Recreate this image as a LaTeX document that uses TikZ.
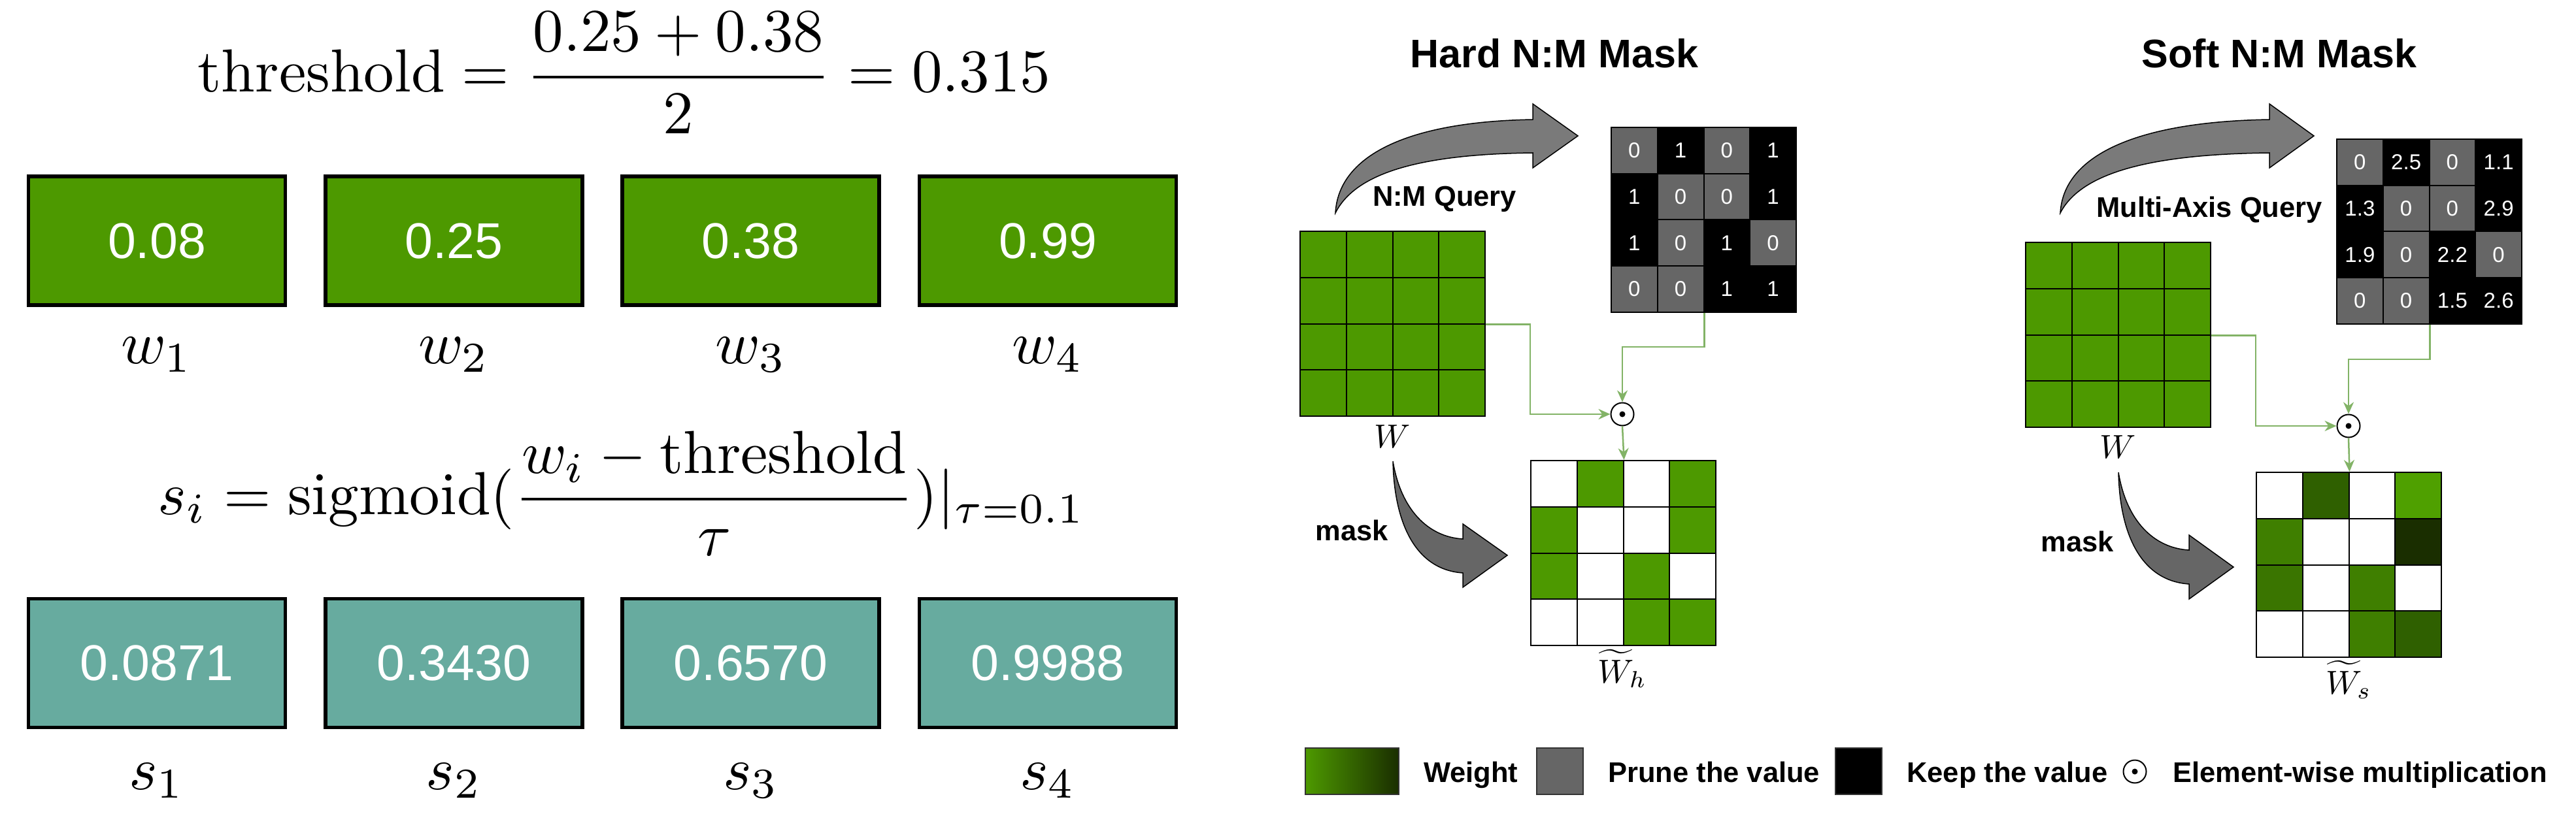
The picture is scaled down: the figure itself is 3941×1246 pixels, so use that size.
\RequirePackage{fix-cm}
\documentclass[tikz,border=0pt]{standalone}
\usepackage{amsmath}
\usepackage{graphicx}
\usepackage{fontspec}
\newfontfamily\arial{Liberation Sans}
\usetikzlibrary{arrows.meta,calc}
\definecolor{wgreen}{HTML}{4D9900}
\definecolor{steal}{HTML}{67AB9F}
\definecolor{cgreen}{HTML}{82B366}
\definecolor{pgray}{HTML}{666666}
\definecolor{agray}{HTML}{7A7A7A}
\definecolor{sgA}{HTML}{2F6000}
\definecolor{sgB}{HTML}{4FA000}
\definecolor{sgC}{HTML}{3F7F00}
\definecolor{sgD}{HTML}{1A2E00}
\definecolor{sgE}{HTML}{3A7500}
\newcommand{\bigmath}[1]{\scalebox{9.3}{#1}}
\newcommand{\midmath}[1]{\scalebox{5.1}{#1}}
\begin{document}
\begin{tikzpicture}[x=1pt,y=-1pt,
  valbox/.style={draw=black, line width=5.5pt, minimum width=393pt, minimum height=197pt, inner sep=0pt, text=white, font=\arial\fontsize{77}{80}\selectfont},
  mathlbl/.style={anchor=base, inner sep=0pt},
  cell/.style={draw=black, line width=2pt, minimum size=70.75pt, inner sep=0pt},
  mcell/.style={cell, text=white, font=\arial\fontsize{33}{36}\selectfont},
  title/.style={anchor=base, inner sep=0pt, font=\arial\bfseries\fontsize{61}{66}\selectfont},
  lbl/.style={anchor=base, inner sep=0pt, font=\arial\bfseries\fontsize{43.5}{48}\selectfont},
  leglbl/.style={anchor=base west, inner sep=0pt, font=\arial\bfseries\fontsize{43.5}{48}\selectfont},
  legbox/.style={draw=black!80, line width=2pt, minimum width=71pt, minimum height=71pt, inner sep=0pt},
  odot/.style={circle, draw=black, line width=2pt, minimum size=35pt, inner sep=0pt, fill=white,
    path picture={\fill[black] (path picture bounding box.center) circle (4.5);}},
  conn/.style={draw=cgreen, line width=2.5pt, -{Stealth[length=18pt,width=16pt]}},
  bigarrow/.style={draw=black, line width=1.5pt}
]
\useasboundingbox (0,0) rectangle (3941,1246);

% ---------------- left part ----------------
\node[mathlbl] (eqA) at (955,141) {\bigmath{$\displaystyle \mathrm{threshold} = \frac{0.25+0.38}{2} = 0.315$}};
\foreach \i/\val in {1/0.08,2/0.25,3/0.38,4/0.99}{
  \node[valbox, fill=wgreen] (w\i) at ({240+454.33*(\i-1)},368.5) {\val};
  \node[mathlbl] (wl\i) at ({240+454.33*(\i-1)},556) {\bigmath{$w_{\i}$}};
}
\node[mathlbl] (eqB) at (951,787) {\bigmath{$\displaystyle s_i = \mathrm{sigmoid}(\frac{w_i-\mathrm{threshold}}{\tau})|_{\tau=0.1}$}};
\foreach \i/\val in {1/0.0871,2/0.3430,3/0.6570,4/0.9988}{
  \node[valbox, fill=steal] (s\i) at ({240+454.33*(\i-1)},1015) {\val};
  \node[mathlbl] (sl\i) at ({240+454.33*(\i-1)},1208) {\bigmath{$s_{\i}$}};
}

% ---------------- hard N:M mask ----------------
\node[title] (hT) at (2378,104) {Hard N:M Mask};
\foreach \ri in {1,...,4}{\foreach \ci in {1,...,4}{
  \node[cell, fill=wgreen] (hW-\ri-\ci) at ({1989+70.75*(\ci-0.5)},{354+70.75*(\ri-0.5)}) {};
}}
\node[mathlbl] (hWl) at (2130,685) {\midmath{$W$}};
\foreach \ri/\ci/\val/\fc in {1/1/0/pgray,1/2/1/black,1/3/0/pgray,1/4/1/black,
  2/1/1/black,2/2/0/pgray,2/3/0/pgray,2/4/1/black,
  3/1/1/black,3/2/0/pgray,3/3/1/black,3/4/0/pgray,
  4/1/0/pgray,4/2/0/pgray,4/3/1/black,4/4/1/black}{
  \node[mcell, fill=\fc] (hM-\ri-\ci) at ({2465+70.75*(\ci-0.5)},{195+70.75*(\ri-0.5)}) {\val};
}
\foreach \ri/\ci/\fc in {1/1/white,1/2/wgreen,1/3/white,1/4/wgreen,
  2/1/wgreen,2/2/white,2/3/white,2/4/wgreen,
  3/1/wgreen,3/2/white,3/3/wgreen,3/4/white,
  4/1/white,4/2/white,4/3/wgreen,4/4/wgreen}{
  \node[cell, fill=\fc] (hR-\ri-\ci) at ({2342+70.75*(\ci-0.5)},{705+70.75*(\ri-0.5)}) {};
}
\node[mathlbl] (hRl) at (2482,1045) {\midmath{$\widetilde{W}_h$}};
\node[odot] (hX) at (2482,634) {};
\draw[conn] (hW-2-4.south east) -| (hR-1-1.north west |- hX.west) -- (hX.west);
\draw[conn] (hM-4-2.south east) -- ++(0,52) -| (hX.north);
\draw[conn] (hX.south) -- (hR-1-2.north east);
\node[lbl] (hQ) at (2210,316) {N:M Query};
\node[lbl] (hK) at (2068,827) {mask};
\filldraw[bigarrow, fill=agray] (2043,326) .. controls (2048,235) and (2160,186) .. (2345,183)
  -- (2345,159) -- (2414,208) -- (2345,257) -- (2345,234)
  .. controls (2180,236) and (2075,262) .. cycle;
\filldraw[bigarrow, fill=pgray] (2131,706) .. controls (2133,800) and (2165,872) .. (2238,877)
  -- (2238,899) -- (2306,850) -- (2238,802) -- (2238,825)
  .. controls (2185,822) and (2143,780) .. cycle;

% ---------------- soft N:M mask ----------------
\node[title] (sT) at (3487,104) {Soft N:M Mask};
\foreach \ri in {1,...,4}{\foreach \ci in {1,...,4}{
  \node[cell, fill=wgreen] (sW-\ri-\ci) at ({3099+70.75*(\ci-0.5)},{371+70.75*(\ri-0.5)}) {};
}}
\node[mathlbl] (sWl) at (3240,701) {\midmath{$W$}};
\foreach \ri/\ci/\val/\fc in {1/1/0/pgray,1/2/2.5/black,1/3/0/pgray,1/4/1.1/black,
  2/1/1.3/black,2/2/0/pgray,2/3/0/pgray,2/4/2.9/black,
  3/1/1.9/black,3/2/0/pgray,3/3/2.2/black,3/4/0/pgray,
  4/1/0/pgray,4/2/0/pgray,4/3/1.5/black,4/4/2.6/black}{
  \node[mcell, fill=\fc] (sM-\ri-\ci) at ({3575+70.75*(\ci-0.5)},{213+70.75*(\ri-0.5)}) {\val};
}
\foreach \ri/\ci/\fc in {1/1/white,1/2/sgA,1/3/white,1/4/sgB,
  2/1/sgC,2/2/white,2/3/white,2/4/sgD,
  3/1/sgE,3/2/white,3/3/sgC,3/4/white,
  4/1/white,4/2/white,4/3/sgC,4/4/sgA}{
  \node[cell, fill=\fc] (sR-\ri-\ci) at ({3452+70.75*(\ci-0.5)},{723+70.75*(\ri-0.5)}) {};
}
\node[mathlbl] (sRl) at (3593,1062) {\midmath{$\widetilde{W}_s$}};
\node[odot] (sX) at (3593,652) {};
\draw[conn] (sW-2-4.south east) -| (sR-1-1.north west |- sX.west) -- (sX.west);
\draw[conn] (sM-4-2.south east) -- ++(0,53) -| (sX.north);
\draw[conn] (sX.south) -- (sR-1-2.north east);
\node[lbl] (sQ) at (3380,333) {Multi-Axis Query};
\node[lbl] (sK) at (3178,844) {mask};
\filldraw[bigarrow, fill=agray] (3152,326) .. controls (3157,235) and (3275,186) .. (3472,183)
  -- (3472,159) -- (3540,208) -- (3472,257) -- (3472,234)
  .. controls (3297,236) and (3185,262) .. cycle;
\filldraw[bigarrow, fill=pgray] (3241,723) .. controls (3243,817) and (3275,889) .. (3349,894)
  -- (3349,917) -- (3417,868) -- (3349,819) -- (3349,842)
  .. controls (3295,839) and (3253,797) .. cycle;

% ---------------- legend ----------------
\node[legbox, minimum width=143pt, left color=wgreen, right color=sgD] (lgW) at (2068.5,1180.5) {};
\node[leglbl] (lgWt) at (2178,1197) {Weight};
\node[legbox, fill=pgray] (lgP) at (2386,1180.5) {};
\node[leglbl] (lgPt) at (2460,1197) {Prune the value};
\node[legbox, fill=black] (lgK) at (2843.5,1180.5) {};
\node[leglbl] (lgKt) at (2917,1197) {Keep the value};
\node[odot] (lgX) at (3266,1181) {};
\node[leglbl] (lgXt) at (3324,1197) {Element-wise multiplication};
\end{tikzpicture}
\end{document}
